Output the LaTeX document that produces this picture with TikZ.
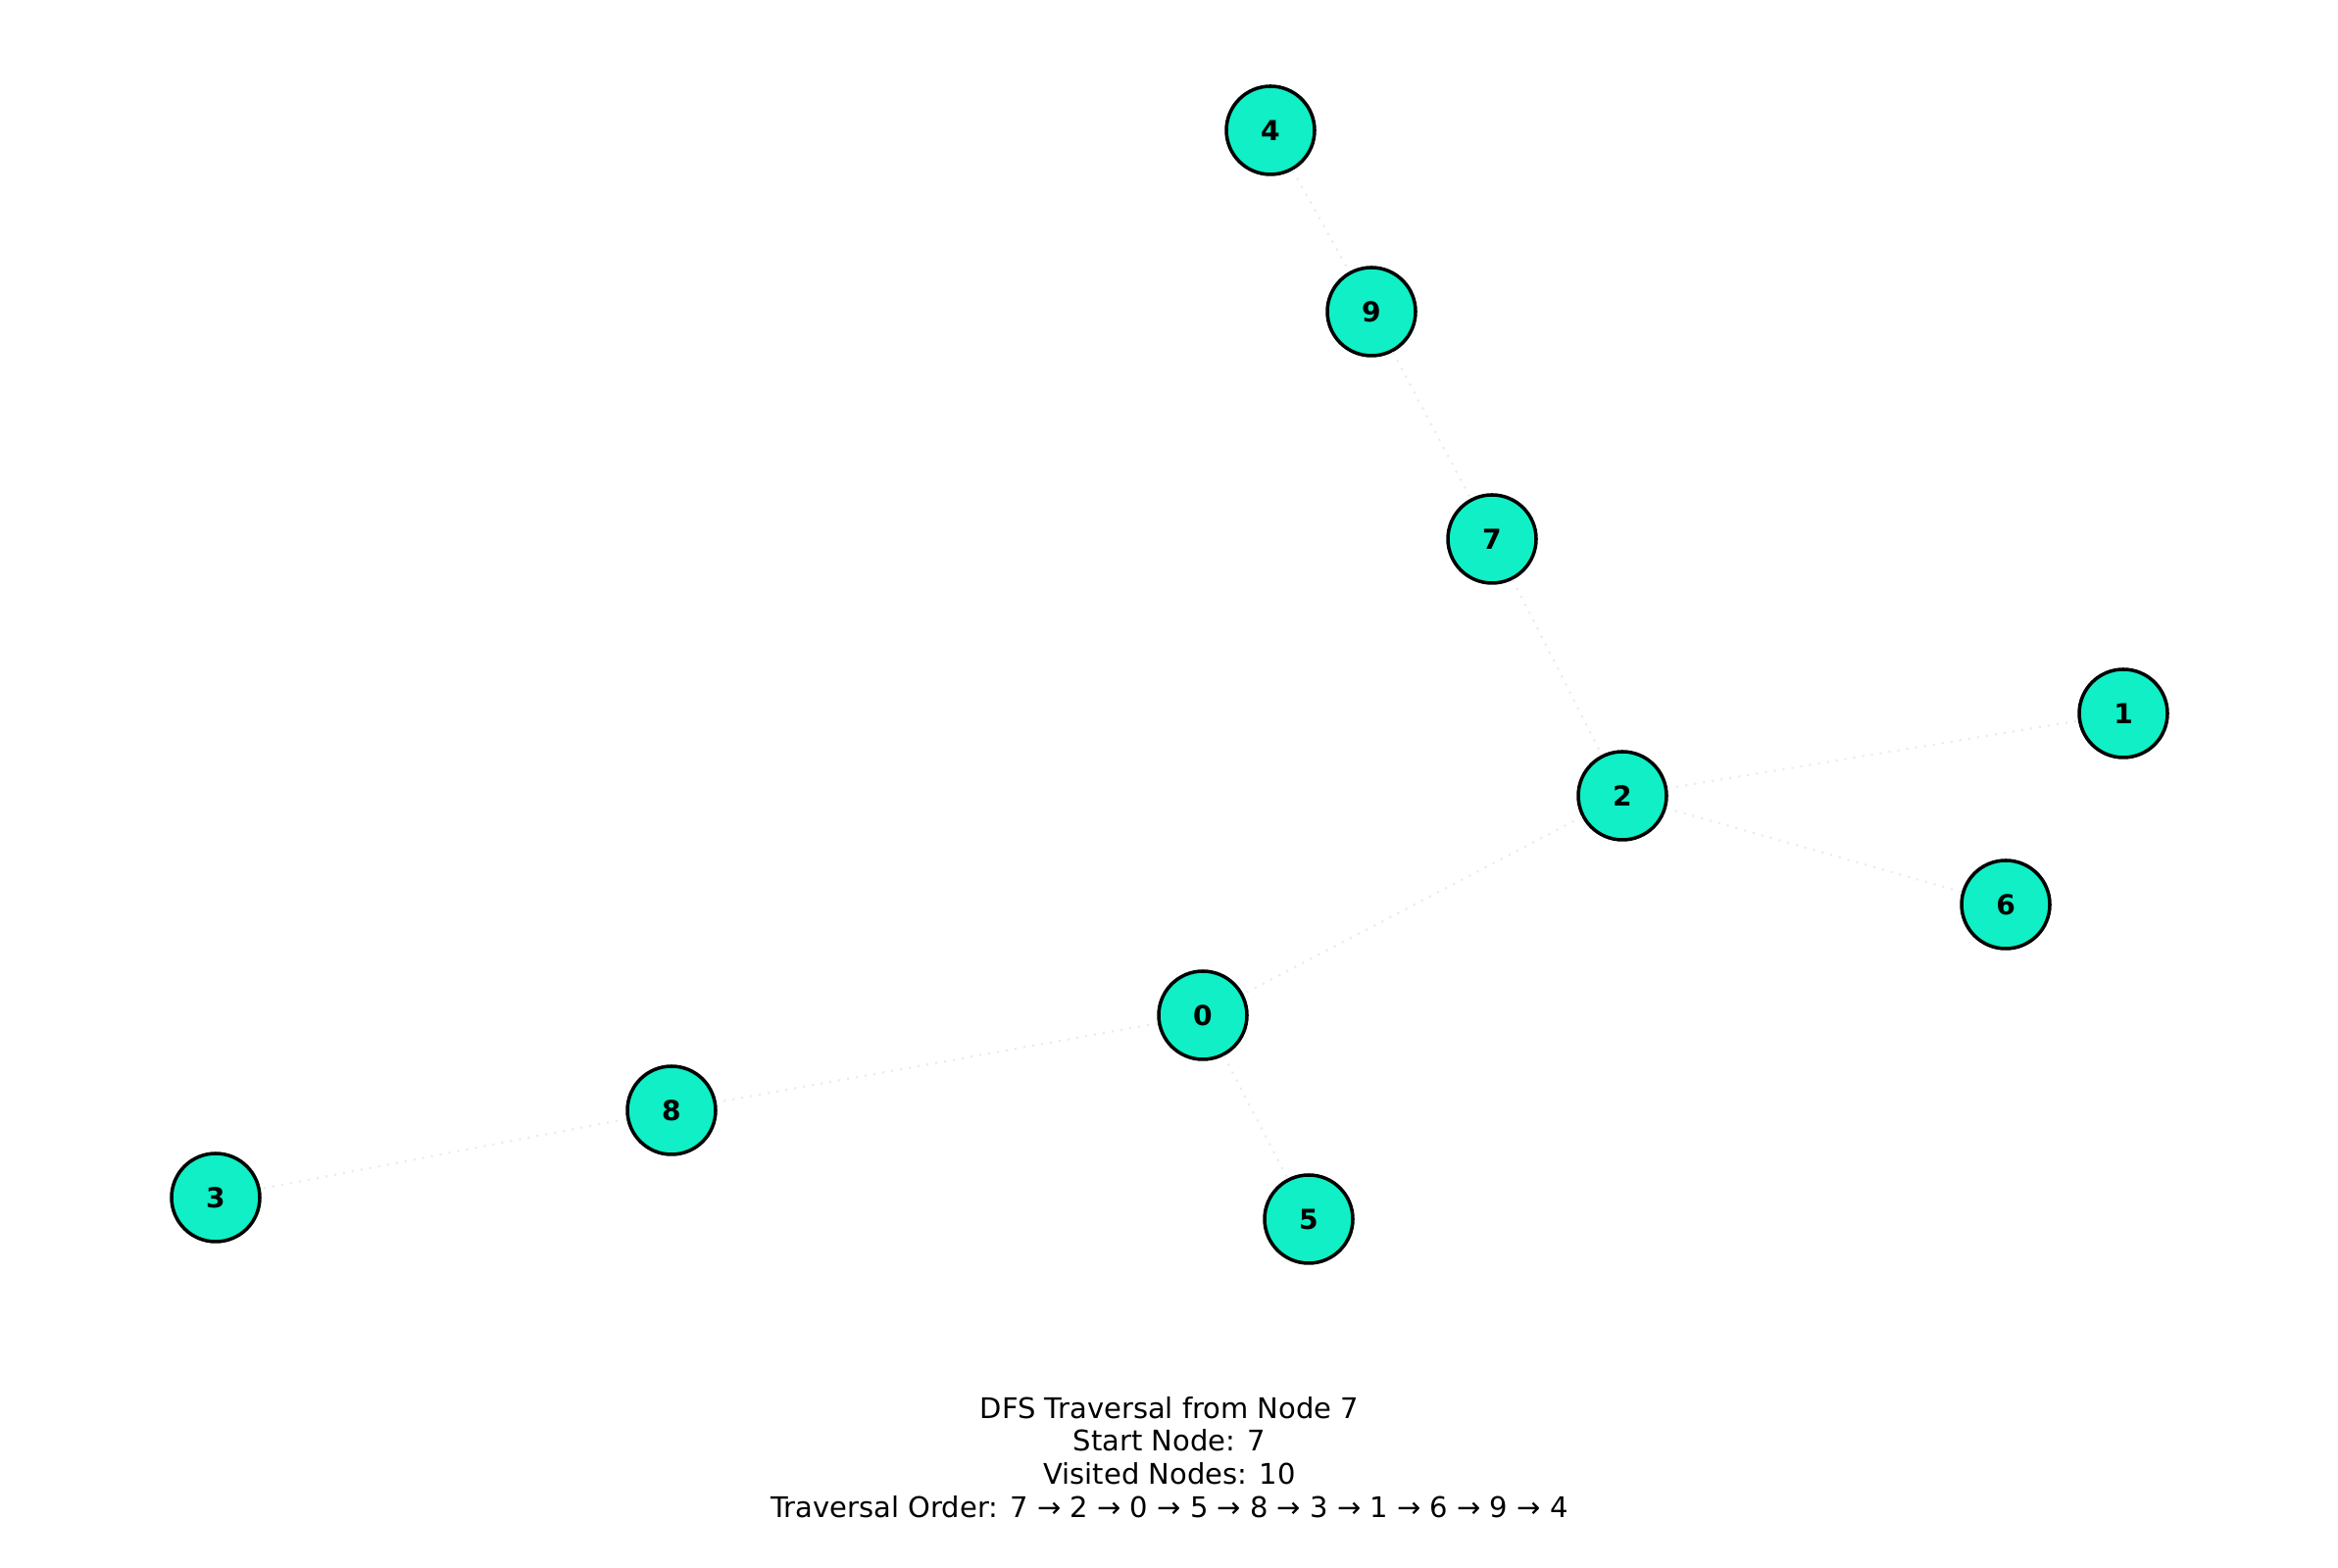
\documentclass[tikz,border=0pt]{standalone}
\usepackage{fontspec}
\setmainfont{DejaVu Sans}
\usetikzlibrary{positioning}
\definecolor{visitfill}{RGB}{16,239,197}

\begin{document}
\begin{tikzpicture}[
    vertex/.style={circle, draw=black, fill=visitfill, line width=1pt, minimum size=0.9cm, inner sep=0pt, font=\fontsize{8}{9}\selectfont\bfseries},
    edge/.style={draw=black!8, dotted, line width=0.6pt},
    caption/.style={align=center, font=\fontsize{8.25}{9.6}\selectfont}
]
\useasboundingbox (0,0) rectangle (23.85,16);

% Vertices
\node[vertex] (n4) at (12.96, 14.67) {4};
\node[vertex] (n9) at (13.99, 12.82) {9};
\node[vertex] (n7) at (15.22, 10.5) {7};
\node[vertex] (n1) at (21.66, 8.72) {1};
\node[vertex] (n2) at (16.55, 7.88) {2};
\node[vertex] (n6) at (20.46, 6.77) {6};
\node[vertex] (n0) at (12.27, 5.64) {0};
\node[vertex] (n8) at (6.85, 4.67) {8};
\node[vertex] (n3) at (2.2, 3.78) {3};
\node[vertex] (n5) at (13.35, 3.56) {5};

% Edges
\draw[edge] (n4) -- (n9);
\draw[edge] (n9) -- (n7);
\draw[edge] (n7) -- (n2);
\draw[edge] (n2) -- (n1);
\draw[edge] (n2) -- (n6);
\draw[edge] (n2) -- (n0);
\draw[edge] (n0) -- (n8);
\draw[edge] (n8) -- (n3);
\draw[edge] (n0) -- (n5);

% Summary
\node[caption] (summary) at (11.93, 1.13) {DFS Traversal from Node 7\\Start Node: 7\\Visited Nodes: 10\\Traversal Order: 7 → 2 → 0 → 5 → 8 → 3 → 1 → 6 → 9 → 4};

\end{tikzpicture}
\end{document}
